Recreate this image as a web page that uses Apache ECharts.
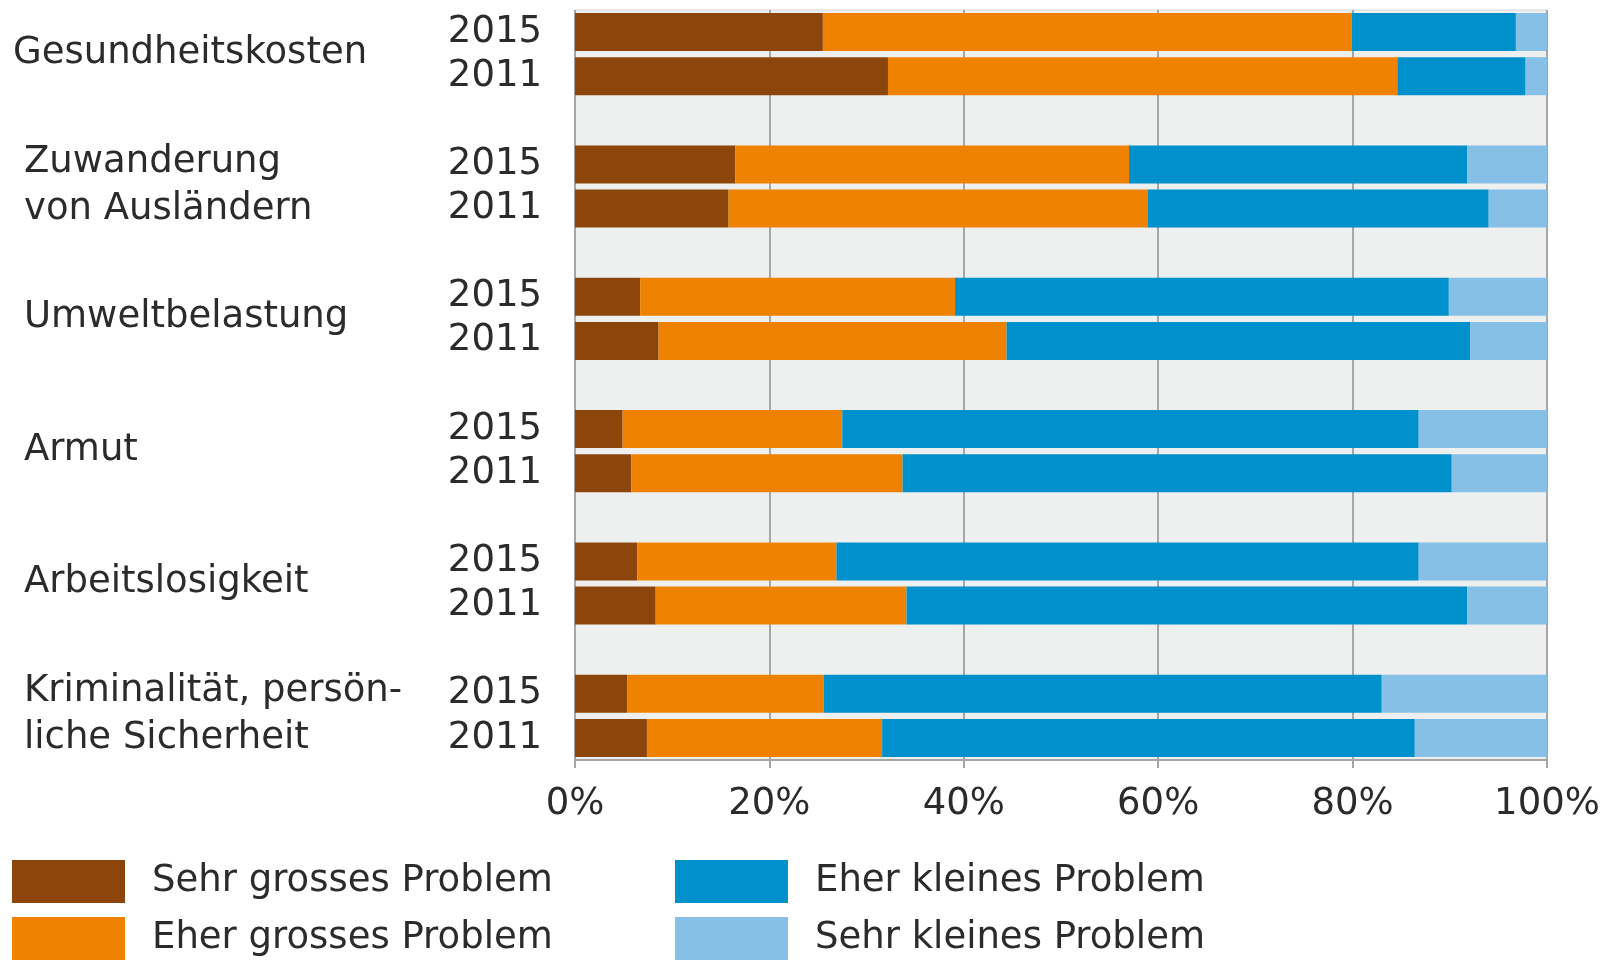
<!DOCTYPE html>
<html>
<head>
<meta charset="utf-8">
<script src="https://cdn.jsdelivr.net/npm/echarts@6/dist/echarts.min.js"></script>
<style>
  html, body { margin: 0; padding: 0; background: #fff; }
  #chart { width: 1606px; height: 960px; }
</style>
</head>
<body>
<div id="chart"></div>
<script>
// Themen und Jahre
const topics = ['Gesundheitskosten', 'Zuwanderung\nvon Ausländern', 'Umweltbelastung', 'Armut', 'Arbeitslosigkeit', 'Kriminalität, persön-\nliche Sicherheit']
const years = ['2015', '2011']
const xTicks = [0, 20, 40, 60, 80, 100]

// Anteile in %
const sehrGross2015 = [25.5, 16.5, 6.7, 4.9, 6.4, 5.4]
const sehrGross2011 = [32.2, 15.8, 8.6, 5.8, 8.3, 7.4]
const eherGross2015 = [54.4, 40.5, 32.4, 22.6, 20.5, 20.2]
const eherGross2011 = [52.4, 43.1, 35.8, 27.9, 25.8, 24.2]
const eherKlein2015 = [16.9, 34.8, 50.8, 59.3, 59.9, 57.4]
const eherKlein2011 = [13.2, 35.1, 47.7, 56.5, 57.7, 54.8]
const sehrKlein2015 = [3.2, 8.2, 10.1, 13.2, 13.2, 17.0]
const sehrKlein2011 = [2.2, 6.0, 7.9, 9.8, 8.2, 13.6]

const seriesNames = ['Sehr grosses Problem', 'Eher grosses Problem', 'Eher kleines Problem', 'Sehr kleines Problem']
const colors = ['#8c460c', '#ef8200', '#0090cb', '#86c0e6']

const font = "'DejaVu Sans', sans-serif"
const textColor = '#2b2b2b'

// 2015, 2011, Leerzeile ... (letzte Leerzeile weg)
function rows(a, b, empty) {
  const out = []
  topics.forEach((t, i) => {
    out.push(a[i], b[i])
    if (i < topics.length - 1) out.push(empty)
  })
  return out
}

const yearLabels = rows(topics.map(() => years[0]), topics.map(() => years[1]), '')
const topicLabels = rows(topics, topics.map(() => ''), '')

const values = [
  rows(sehrGross2015, sehrGross2011, '-'),
  rows(eherGross2015, eherGross2011, '-'),
  rows(eherKlein2015, eherKlein2011, '-'),
  rows(sehrKlein2015, sehrKlein2011, '-')
]

const chart = echarts.init(document.getElementById('chart'))

const legendText = { fontSize: 37, color: textColor, fontFamily: font, padding: [8, 0, 0, 22] }

chart.setOption({
  animation: false,
  color: colors,
  textStyle: { fontFamily: font },
  grid: {
    left: 575,
    right: 59,
    top: 10,
    height: 750,
    show: true,
    backgroundColor: '#eef0ef',
    borderColor: '#d4d6d5',
    borderWidth: 1
  },
  legend: [
    {
      data: seriesNames.slice(0, 2),
      orient: 'vertical',
      left: 12,
      top: 860,
      padding: 0,
      itemWidth: 113,
      itemHeight: 43,
      itemGap: 14,
      icon: 'rect',
      textStyle: legendText
    },
    {
      data: seriesNames.slice(2, 4),
      orient: 'vertical',
      left: 675,
      top: 860,
      padding: 0,
      itemWidth: 113,
      itemHeight: 43,
      itemGap: 14,
      icon: 'rect',
      textStyle: legendText
    }
  ],
  xAxis: {
    type: 'value',
    min: xTicks[0],
    max: xTicks[xTicks.length - 1],
    interval: xTicks[1] - xTicks[0],
    axisLine: { show: true, lineStyle: { color: '#a6a6a6', width: 2 } },
    axisTick: { show: true, length: 8, lineStyle: { color: '#a6a6a6', width: 2 } },
    splitLine: { show: true, lineStyle: { color: '#a6a6a6', width: 2 } },
    axisLabel: {
      formatter: '{value}%',
      fontSize: 37,
      color: textColor,
      fontFamily: font,
      margin: 26
    }
  },
  yAxis: [
    {
      type: 'category',
      inverse: true,
      data: yearLabels,
      axisLine: { show: false },
      axisTick: { show: false },
      axisLabel: {
        interval: 0,
        fontSize: 37,
        color: textColor,
        fontFamily: font,
        margin: 33,
        padding: [3, 0, 0, 0]
      }
    },
    {
      type: 'category',
      inverse: true,
      position: 'left',
      data: topicLabels,
      axisLine: { show: false },
      axisTick: { show: false },
      splitLine: { show: false },
      axisLabel: {
        interval: 0,
        align: 'left',
        margin: 562,
        padding: [42, 0, 0, 0],
        formatter: function (value, index) {
          if (!value) return ''
          const st = index === 0 ? 'g' : 'n'
          return value.split('\n').map(l => '{' + st + '|' + l + '}').join('\n')
        },
        rich: {
          g: { fontSize: 37, color: textColor, fontFamily: font, lineHeight: 47 },
          n: { fontSize: 37, color: textColor, fontFamily: font, lineHeight: 47, padding: [0, 0, 0, 11] }
        }
      }
    }
  ],
  series: seriesNames.map((name, i) => ({
    name: name,
    type: 'bar',
    stack: 'total',
    yAxisIndex: 0,
    barWidth: 38,
    data: values[i],
    itemStyle: { color: colors[i] }
  }))
})
</script>
</body>
</html>
